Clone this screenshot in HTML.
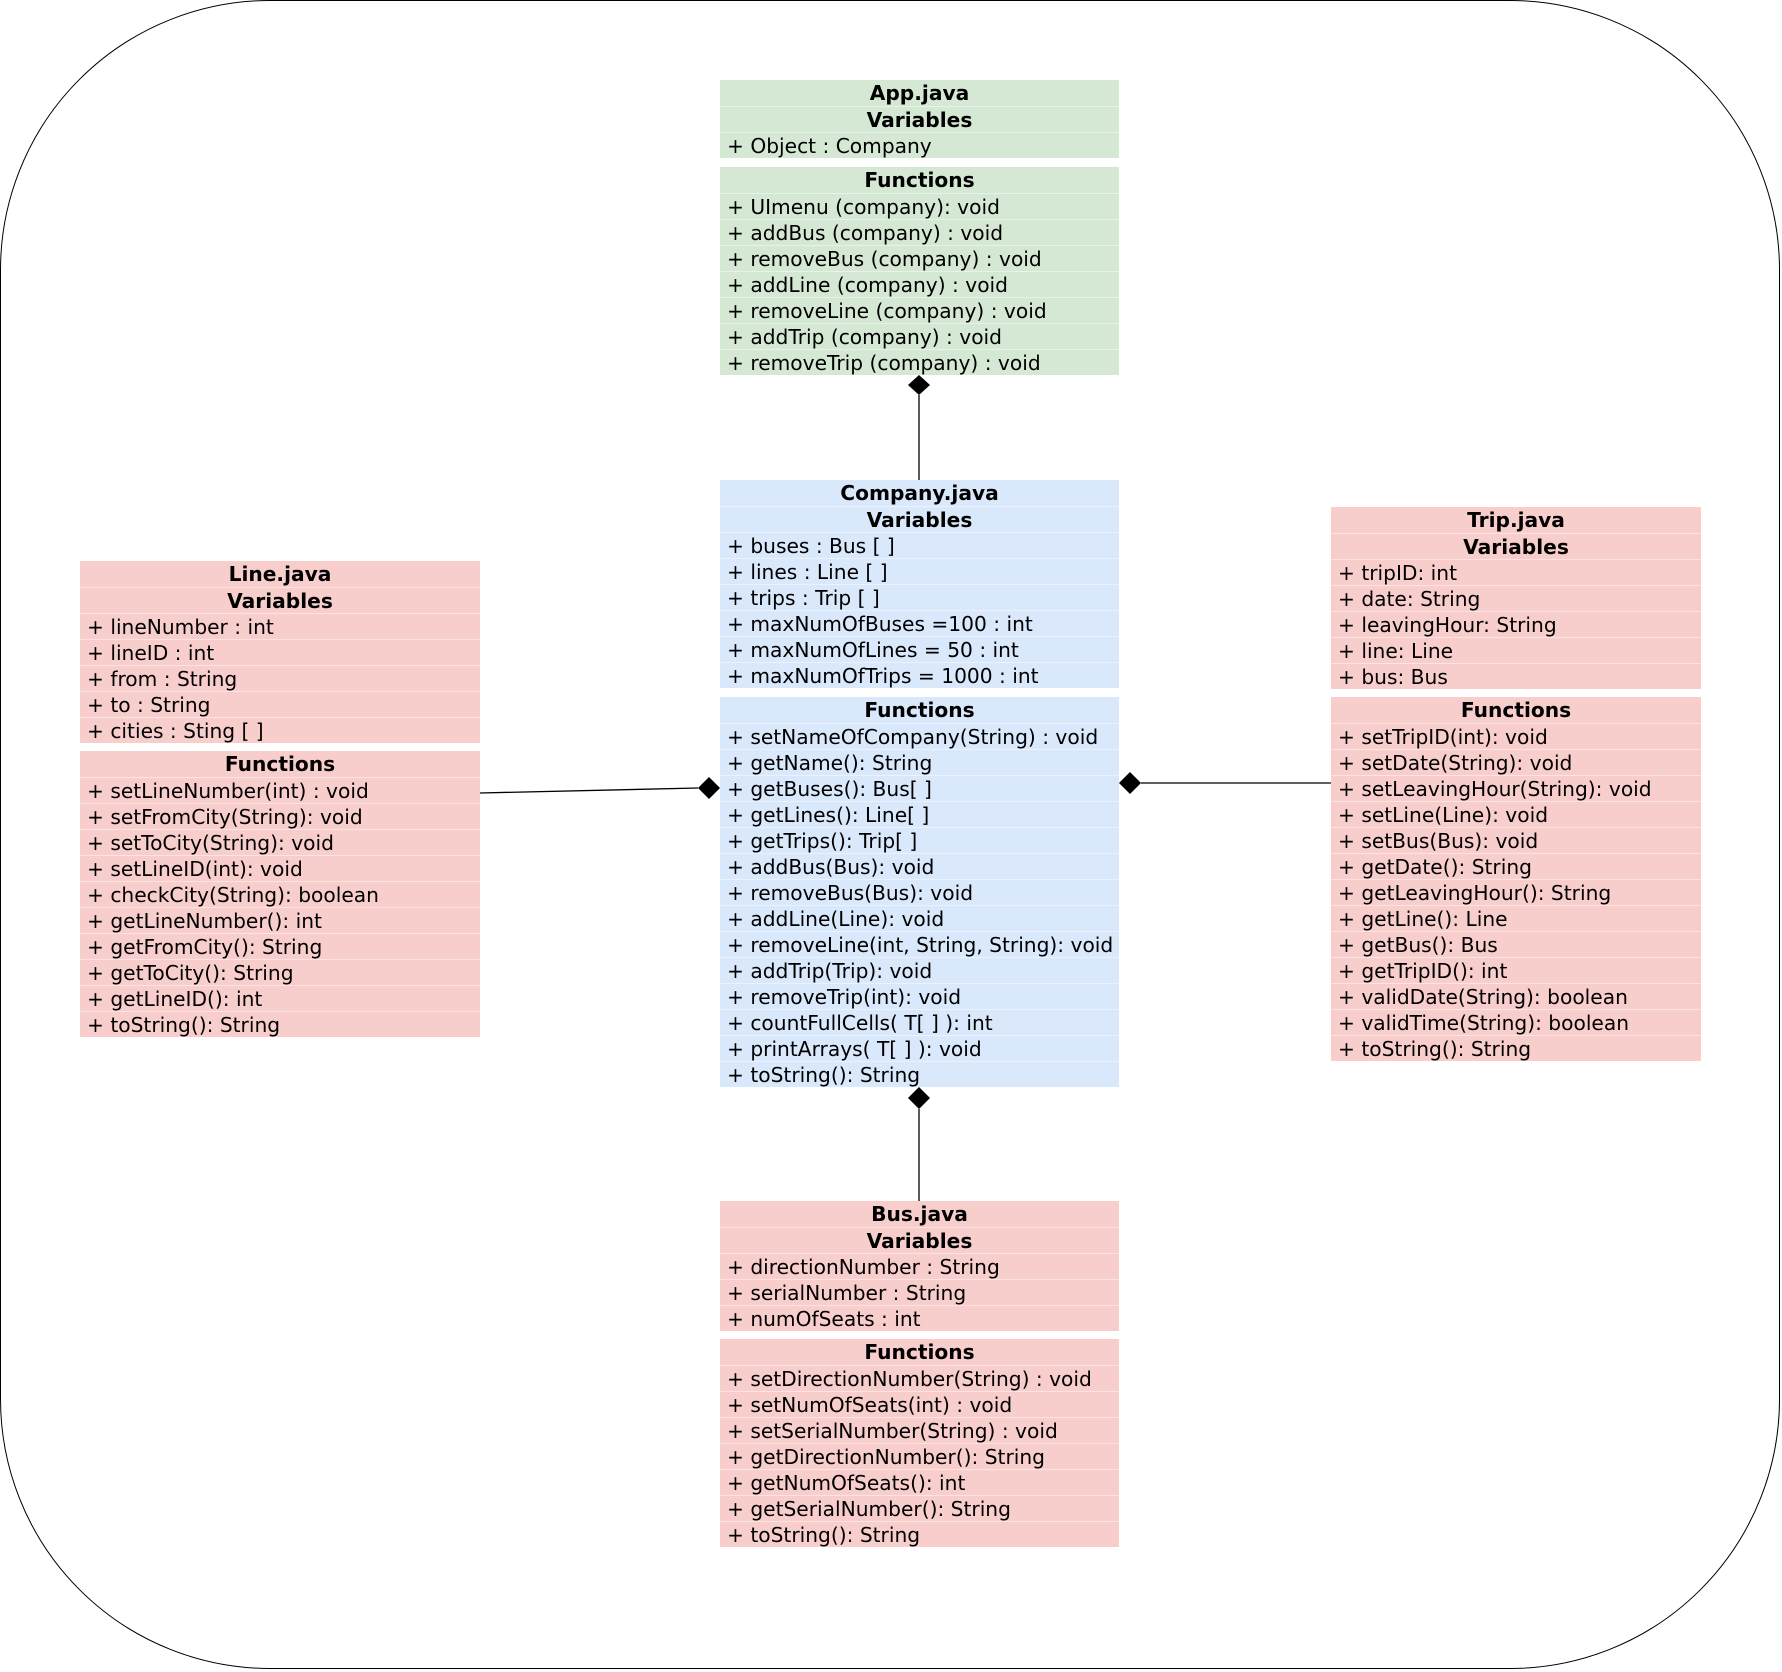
<!DOCTYPE html>
<html><head><meta charset="utf-8"><style>
html,body{margin:0;padding:0;background:#fff;}
body{width:1782px;height:1672px;position:relative;overflow:hidden;font-family:"DejaVu Sans","Liberation Sans",sans-serif;font-size:20.2px;color:#000;}
.frame{position:absolute;left:0;top:0;width:1780px;height:1669px;border:1px solid #000;border-radius:270px;box-sizing:border-box;}
.sec{position:absolute;}
.sec div{height:26px;line-height:27px;box-sizing:border-box;border-top:1px solid rgba(255,255,255,0.45);padding-left:7px;white-space:nowrap;}
.sec div:first-child{border-top:none;}
.sec div.h{font-weight:bold;text-align:center;padding-left:0;}
.g{background:#d5e8d4;} .b{background:#dae8fc;} .r{background:#f8cecc;}
svg{position:absolute;left:0;top:0;}
</style></head><body>
<div class="frame"></div>

<div class="sec g" style="left:720px;top:80px;width:399px;">
<div class="h">App.java</div><div class="h">Variables</div><div>+ Object : Company</div></div>
<div class="sec g" style="left:720px;top:167px;width:399px;">
<div class="h">Functions</div>
<div>+ UImenu (company): void</div>
<div>+ addBus (company) : void</div>
<div>+ removeBus (company) : void</div>
<div>+ addLine (company) : void</div>
<div>+ removeLine (company) : void</div>
<div>+ addTrip (company) : void</div>
<div>+ removeTrip (company) : void</div></div>

<div class="sec b" style="left:720px;top:480px;width:399px;">
<div class="h">Company.java</div><div class="h">Variables</div>
<div>+ buses : Bus [ ]</div>
<div>+ lines : Line [ ]</div>
<div>+ trips : Trip [ ]</div>
<div>+ maxNumOfBuses =100 : int</div>
<div>+ maxNumOfLines = 50 : int</div>
<div>+ maxNumOfTrips = 1000 : int</div></div>
<div class="sec b" style="left:720px;top:697px;width:399px;">
<div class="h">Functions</div>
<div>+ setNameOfCompany(String) : void</div>
<div>+ getName(): String</div>
<div>+ getBuses(): Bus[ ]</div>
<div>+ getLines(): Line[ ]</div>
<div>+ getTrips(): Trip[ ]</div>
<div>+ addBus(Bus): void</div>
<div>+ removeBus(Bus): void</div>
<div>+ addLine(Line): void</div>
<div>+ removeLine(int, String, String): void</div>
<div>+ addTrip(Trip): void</div>
<div>+ removeTrip(int): void</div>
<div>+ countFullCells( T[ ] ): int</div>
<div>+ printArrays( T[ ] ): void</div>
<div>+ toString(): String</div></div>

<div class="sec r" style="left:80px;top:561px;width:400px;">
<div class="h">Line.java</div><div class="h">Variables</div>
<div>+ lineNumber : int</div>
<div>+ lineID : int</div>
<div>+ from : String</div>
<div>+ to : String</div>
<div>+ cities : Sting [ ]</div></div>
<div class="sec r" style="left:80px;top:751px;width:400px;">
<div class="h">Functions</div>
<div>+ setLineNumber(int) : void</div>
<div>+ setFromCity(String): void</div>
<div>+ setToCity(String): void</div>
<div>+ setLineID(int): void</div>
<div>+ checkCity(String): boolean</div>
<div>+ getLineNumber(): int</div>
<div>+ getFromCity(): String</div>
<div>+ getToCity(): String</div>
<div>+ getLineID(): int</div>
<div>+ toString(): String</div></div>

<div class="sec r" style="left:1331px;top:507px;width:370px;">
<div class="h">Trip.java</div><div class="h">Variables</div>
<div>+ tripID: int</div>
<div>+ date: String</div>
<div>+ leavingHour: String</div>
<div>+ line: Line</div>
<div>+ bus: Bus</div></div>
<div class="sec r" style="left:1331px;top:697px;width:370px;">
<div class="h">Functions</div>
<div>+ setTripID(int): void</div>
<div>+ setDate(String): void</div>
<div>+ setLeavingHour(String): void</div>
<div>+ setLine(Line): void</div>
<div>+ setBus(Bus): void</div>
<div>+ getDate(): String</div>
<div>+ getLeavingHour(): String</div>
<div>+ getLine(): Line</div>
<div>+ getBus(): Bus</div>
<div>+ getTripID(): int</div>
<div>+ validDate(String): boolean</div>
<div>+ validTime(String): boolean</div>
<div>+ toString(): String</div></div>

<div class="sec r" style="left:720px;top:1201px;width:399px;">
<div class="h">Bus.java</div><div class="h">Variables</div>
<div>+ directionNumber : String</div>
<div>+ serialNumber : String</div>
<div>+ numOfSeats : int</div></div>
<div class="sec r" style="left:720px;top:1339px;width:399px;">
<div class="h">Functions</div>
<div>+ setDirectionNumber(String) : void</div>
<div>+ setNumOfSeats(int) : void</div>
<div>+ setSerialNumber(String) : void</div>
<div>+ getDirectionNumber(): String</div>
<div>+ getNumOfSeats(): int</div>
<div>+ getSerialNumber(): String</div>
<div>+ toString(): String</div></div>

<svg width="1782" height="1672" viewBox="0 0 1782 1672">
<g stroke="#000" stroke-width="1.3" fill="none">
<line x1="919" y1="395" x2="919" y2="480"/>
<line x1="480" y1="793" x2="698" y2="788"/>
<line x1="1141" y1="783" x2="1331" y2="783"/>
<line x1="919" y1="1109" x2="919" y2="1201"/>
</g>
<g fill="#000">
<polygon points="919,375 930,385 919,395 908,385"/>
<polygon points="698,788 709,777 720,788 709,799"/>
<polygon points="1119,783 1130,772 1141,783 1130,794"/>
<polygon points="919,1087 930,1098 919,1109 908,1098"/>
</g>
</svg>
</body></html>
